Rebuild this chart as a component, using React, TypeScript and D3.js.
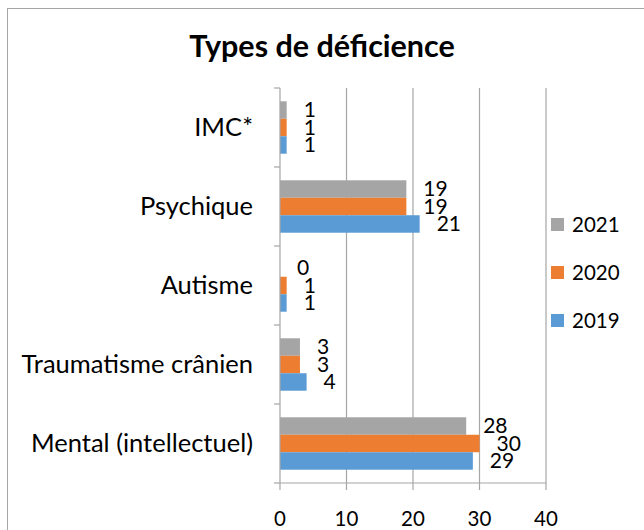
import React from 'react';
import * as d3 from 'd3';

// categories from top to bottom
const categories = ['IMC*', 'Psychique', 'Autisme', 'Traumatisme crânien', 'Mental (intellectuel)'];
const years = ['2021', '2020', '2019'];
const values2021 = [1, 19, 0, 3, 28];
const values2020 = [1, 19, 1, 3, 30];
const values2019 = [1, 21, 1, 4, 29];
const xTicks = [0, 10, 20, 30, 40];

const colors: Record<string, string> = { '2021': '#a5a5a5', '2020': '#ed7d31', '2019': '#5b9bd5' };
const font = 'Lato, "Open Sans", sans-serif';

export default function App() {
    const width = 644, height = 530;
    const margin = { top: 88, left: 280, right: 98, bottom: 47 };

    const x = d3.scaleLinear().domain([0, 40]).range([margin.left, width - margin.right]);
    const y = d3.scaleBand().domain(categories).range([margin.top, height - margin.bottom]);
    const inner = d3.scaleBand().domain(years).range([0, y.bandwidth()]).paddingOuter(0.76);

    const series: Record<string, number[]> = { '2021': values2021, '2020': values2020, '2019': values2019 };
    const grid = '#a6a6a6';
    const bottom = height - margin.bottom;

    return (
        <svg width={width} height={height} style={{ position: 'absolute', left: 0, top: 0 }} fontFamily={font}>
            <rect x={7.5} y={8.5} width={700} height={600} fill="#fff" stroke="#a6a6a6" />
            <text x={322} y={57} textAnchor="middle" fontSize={30.5} fontWeight="bold" fill="#000">Types de déficience</text>

            {/* gridlines */}
            {xTicks.slice(1).map(t => (
                <line key={t} x1={x(t)} x2={x(t)} y1={margin.top} y2={bottom} stroke={grid} strokeWidth={1.2} />
            ))}

            {/* bars */}
            {years.map(yr => categories.map((c, i) => (
                <rect key={yr + c} x={x(0)} y={(y(c) as number) + (inner(yr) as number)}
                    width={x(series[yr][i]) - x(0)} height={inner.bandwidth()} fill={colors[yr]} />
            )))}

            {/* value labels */}
            {years.map(yr => categories.map((c, i) => (
                <text key={'l' + yr + c} x={x(series[yr][i]) + 17}
                    y={(y(c) as number) + (inner(yr) as number) + inner.bandwidth() / 2 + 7}
                    fontSize={21} fill="#000">{series[yr][i]}</text>
            )))}

            {/* y axis */}
            <line x1={x(0)} x2={x(0)} y1={margin.top} y2={bottom} stroke={grid} strokeWidth={1.2} />
            {[...categories.map(c => y(c) as number), bottom].map((v, i) => (
                <line key={'yt' + i} x1={x(0) - 6} x2={x(0)} y1={v} y2={v} stroke={grid} strokeWidth={1.2} />
            ))}
            {categories.map(c => (
                <text key={'yl' + c} x={253} y={(y(c) as number) + y.bandwidth() / 2 + 8}
                    textAnchor="end" fontSize={25.5} fill="#000">{c}</text>
            ))}

            {/* x axis */}
            <line x1={x(0)} x2={x(40)} y1={bottom} y2={bottom} stroke={grid} strokeWidth={1.2} />
            {xTicks.map(t => (
                <g key={'xt' + t}>
                    <line x1={x(t)} x2={x(t)} y1={bottom} y2={bottom + 7} stroke={grid} strokeWidth={1.2} />
                    <text x={x(t)} y={526} textAnchor="middle" fontSize={20.5} fill="#000">{t}</text>
                </g>
            ))}

            {/* legend */}
            {years.map((yr, i) => (
                <g key={'lg' + yr} transform={`translate(551,${218 + i * 48})`}>
                    <rect width={13} height={13} fill={colors[yr]} />
                    <text x={21} y={14} fontSize={20.5} fill="#000">{yr}</text>
                </g>
            ))}
        </svg>
    );
}
